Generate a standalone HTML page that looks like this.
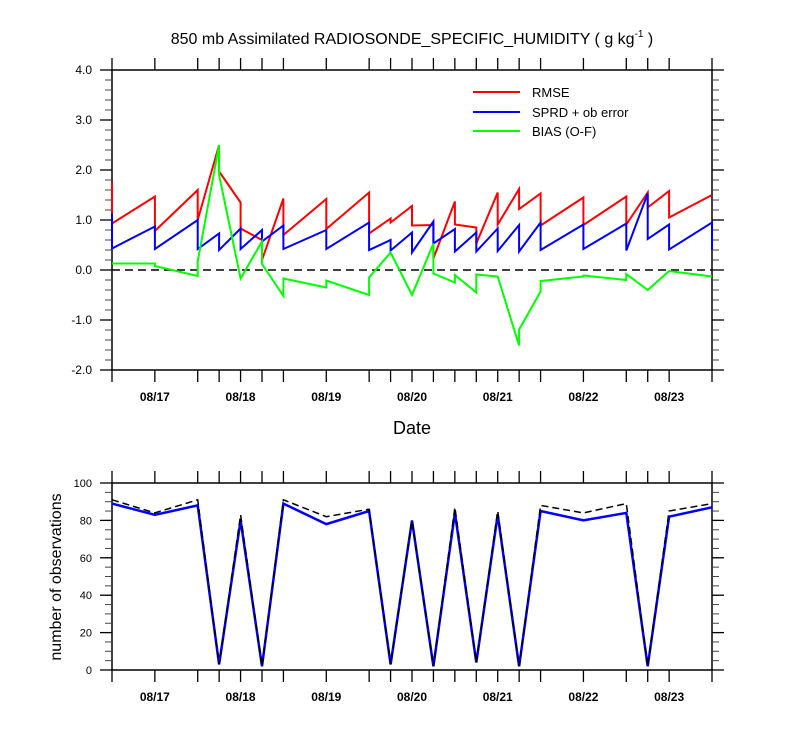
<!DOCTYPE html>
<html><head><meta charset="utf-8"><style>
html,body{margin:0;padding:0;background:#fff;}
svg{display:block;font-family:"Liberation Sans",sans-serif;}
</style></head><body>
<svg id="chart" width="800" height="750" viewBox="0 0 800 750" xmlns="http://www.w3.org/2000/svg">
<text x="412" y="44" font-size="16" text-anchor="middle">850 mb Assimilated RADIOSONDE_SPECIFIC_HUMIDITY ( g kg<tspan font-size="10" dy="-7">-1</tspan><tspan dy="7"> )</tspan></text>
<text x="412" y="434" font-size="18" text-anchor="middle">Date</text>
<text x="0" y="0" font-size="16" text-anchor="middle" transform="translate(61,577) rotate(-90)">number of observations</text>
<g>
<line x1="473" y1="92" x2="520" y2="92" stroke="#ff0000" stroke-width="2"/>
<text x="532" y="97" font-size="13">RMSE</text>
<line x1="473" y1="112" x2="520" y2="112" stroke="#0000ff" stroke-width="2"/>
<text x="532" y="117" font-size="13">SPRD + ob error</text>
<line x1="473" y1="131" x2="520" y2="131" stroke="#00ff00" stroke-width="2"/>
<text x="532" y="136" font-size="13">BIAS (O-F)</text>
</g>
</svg>
<script>
const times = [16.5,17,17.5,17.75,18,18.25,18.5,19,19.5,19.75,20,20.25,20.5,20.75,21,21.25,21.5,22,22.5,22.75,23,23.5];
const dateLabels = ["08/17","08/18","08/19","08/20","08/21","08/22","08/23"];
const dateDays = [17,18,19,20,21,22,23];
const rmseT = [16.5,16.5,17,17,17.5,17.5,17.75,17.75,18,18,18.25,18.25,18.5,18.5,19,19,19.5,19.5,19.75,19.75,20,20,20.25,20.25,20.5,20.5,20.75,20.75,21,21,21.25,21.25,21.5,21.5,22,22,22.5,22.5,22.75,22.75,23,23,23.5];
const rmseV = [1.75,0.93,1.47,0.78,1.6,1.0,2.5,1.97,1.35,0.83,0.6,0.2,1.43,0.7,1.42,0.82,1.55,0.73,1.03,0.95,1.28,0.89,0.9,0.23,1.37,0.91,0.85,0.53,1.55,0.91,1.62,1.22,1.53,0.89,1.45,0.9,1.47,0.91,1.55,1.25,1.58,1.05,1.5];
const sprdT = [16.5,16.5,17,17,17.5,17.5,17.75,17.75,18,18,18.25,18.25,18.5,18.5,19,19,19.5,19.5,19.75,19.75,20,20,20.25,20.25,20.5,20.5,20.75,20.75,21,21,21.25,21.25,21.5,21.5,22,22,22.5,22.5,22.75,22.75,23,23,23.5,23.5];
const sprdV = [1.13,0.43,0.87,0.42,1.0,0.42,0.73,0.4,0.83,0.42,0.8,0.57,0.89,0.42,0.8,0.42,0.95,0.4,0.6,0.39,0.75,0.35,0.97,0.53,0.82,0.37,0.75,0.37,0.83,0.38,0.9,0.37,0.95,0.4,0.91,0.42,0.93,0.39,1.53,0.62,0.91,0.41,0.95,0.4];
const biasT = [16.5,17,17,17.5,17.5,17.75,17.75,18,18.25,18.25,18.5,18.5,19,19,19.5,19.5,19.75,20,20.25,20.25,20.5,20.5,20.75,20.75,21,21.25,21.25,21.5,21.5,22,22,22.5,22.5,22.75,23,23.5];
const biasV = [0.13,0.13,0.08,-0.12,0.17,2.5,1.9,-0.17,0.57,0.12,-0.52,-0.17,-0.35,-0.21,-0.5,-0.15,0.35,-0.5,0.53,-0.07,-0.25,-0.1,-0.45,-0.09,-0.13,-1.51,-1.19,-0.43,-0.22,-0.13,-0.11,-0.2,-0.08,-0.4,-0.02,-0.13];
const obsUsed = [89,83,88,3,80,2,89,78,85,3,80,2,84,4,83,2,85,80,84,2,82,87];
const obsTotal = [91,84,91,3,83,2,91,82,86,3,80,2,87,4,85,2,88,84,89,2,85,89];
const topYTicks = [-2,-1,0,1,2,3,4];
const topYLabels = ["-2.0","-1.0","0.0","1.0","2.0","3.0","4.0"];
const botYTicks = [0,20,40,60,80,100];

const NS="http://www.w3.org/2000/svg";
const svg=document.getElementById('chart');
const X0=112,X1=712;
const xs=t=>X0+(t-16.5)/7*(X1-X0);
const yTop=v=>270-v*50;
const yBot=v=>670-v*1.87;
function el(tag,attrs,parent){const e=document.createElementNS(NS,tag);for(const k in attrs)e.setAttribute(k,attrs[k]);(parent||svg).appendChild(e);return e;}
function frame(name,y0,y1,yf,ticks,labels,minorStep,vmin,vmax){
  const g=el('g',{});
  
  
  const r=el('rect',{x:X0,y:y0,width:X1-X0,height:y1-y0,fill:'none',stroke:'#000','stroke-width':1.5},g);
  
  
  times.forEach(t=>{const x=xs(t);
    el('line',{x1:x,x2:x,y1:y0,y2:y0-12,stroke:'#000','stroke-width':1.3},g);
    el('line',{x1:x,x2:x,y1:y1,y2:y1+12,stroke:'#000','stroke-width':1.3},g);});
  for(let v=vmin;v<=vmax+1e-9;v+=minorStep){const y=yf(v);
    el('line',{x1:X0,x2:X0-7,y1:y,y2:y,stroke:'#444','stroke-width':1},g);
    el('line',{x1:X1,x2:X1+7,y1:y,y2:y,stroke:'#444','stroke-width':1},g);}
  ticks.forEach((v,i)=>{const y=yf(v);
    el('line',{x1:X0,x2:X0-12,y1:y,y2:y,stroke:'#000','stroke-width':1.3},g);
    el('line',{x1:X1,x2:X1+12,y1:y,y2:y,stroke:'#000','stroke-width':1.3},g);
    const tx=el('text',{x:X0-20,y:y+4,'font-size':labels?12:11,'text-anchor':'end'},g);
    tx.textContent=labels?labels[i]:String(v);
    
    });
  dateDays.forEach((d,i)=>{const tx=el('text',{x:xs(d),y:y1+31,'font-size':12,'font-weight':'bold','text-anchor':'middle'},g);
    tx.textContent=dateLabels[i];
    
    });
}
frame('top-panel',70,370,yTop,topYTicks,topYLabels,0.2,-2,4);
frame('bottom-panel',483,670,yBot,botYTicks,null,5,0,100);
const zl=el('line',{x1:X0,x2:X1,y1:yTop(0),y2:yTop(0),stroke:'#000','stroke-width':1.5,'stroke-dasharray':'8,5'});


function series(name,T,V,yf,color,dash,w){
  const d=T.map((t,i)=>(i?'L':'M')+xs(t).toFixed(1)+','+yf(V[i]).toFixed(1)).join('');
  const p=el('path',{d:d,fill:'none',stroke:color,'stroke-width':w,'stroke-linejoin':'miter'});
  if(dash)p.setAttribute('stroke-dasharray',dash);
  
  
}
series('rmse-line',rmseT,rmseV,yTop,'#ff0000',null,2);
series('sprd-line',sprdT,sprdV,yTop,'#0000ff',null,2);
series('bias-line',biasT,biasV,yTop,'#00ff00',null,2);
series('obs-used-line',times,obsUsed,yBot,'#0000ff',null,2.5);
series('obs-total-line',times,obsTotal,yBot,'#000000','7,4',1.5);
</script>
</body></html>
